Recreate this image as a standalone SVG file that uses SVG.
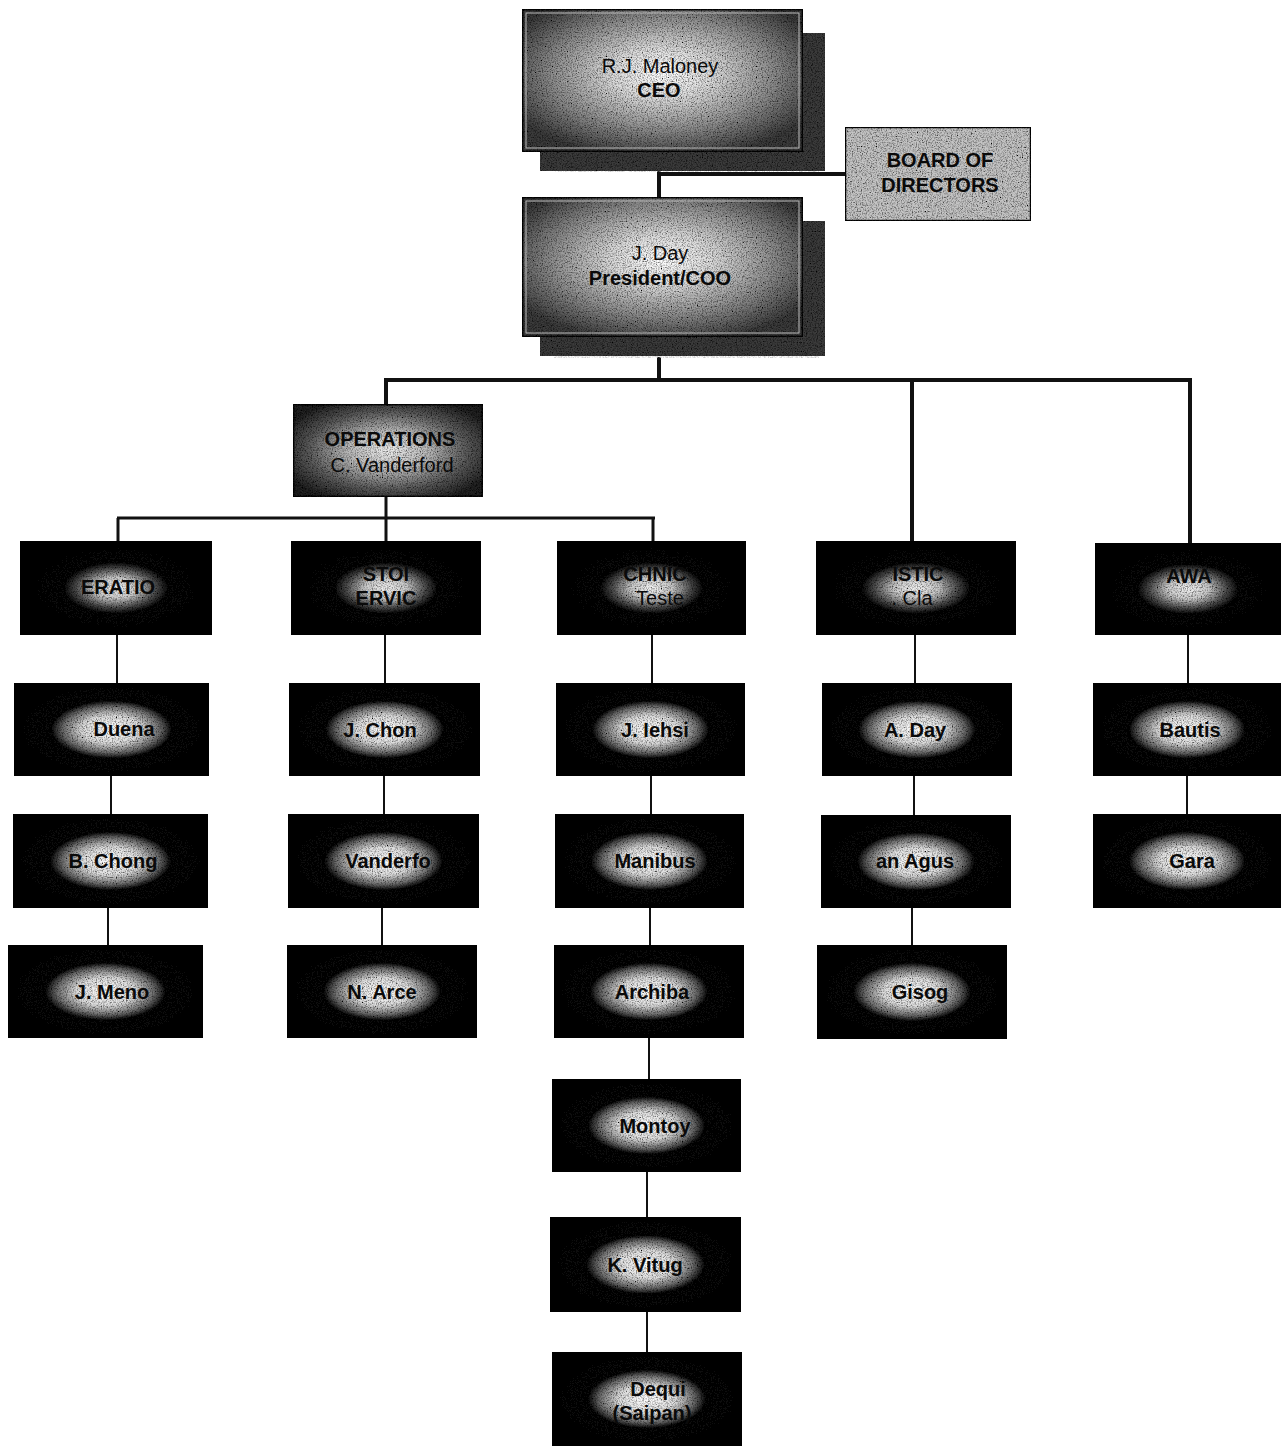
<svg xmlns="http://www.w3.org/2000/svg" width="1281" height="1448" viewBox="0 0 1281 1448">
<defs>
<style>
.t{font-family:"Liberation Sans",Arial,sans-serif;font-size:20px;text-anchor:middle;fill:#0a0a0a}
.b{font-weight:bold}
.thick{stroke:#111;stroke-width:4;fill:none}
.mid{stroke:#111;stroke-width:3;fill:none}
.thin{stroke:#111;stroke-width:2;fill:none}
.dark{fill:url(#glow)}
.darkd{fill:url(#glowd)}
</style>
<radialGradient id="big" cx="0.5" cy="0.45" r="0.6">
<stop offset="0" stop-color="#ffffff"/>
<stop offset="0.3" stop-color="#dadada"/>
<stop offset="0.65" stop-color="#8f8f8f"/>
<stop offset="1" stop-color="#3a3a3a"/>
</radialGradient>
<radialGradient id="ops" cx="0.5" cy="0.5" r="0.6">
<stop offset="0" stop-color="#ececec"/>
<stop offset="0.35" stop-color="#b8b8b8"/>
<stop offset="0.7" stop-color="#5a5a5a"/>
<stop offset="1" stop-color="#202020"/>
</radialGradient>
<radialGradient id="glow" cx="0.5" cy="0.5" r="0.5">
<stop offset="0" stop-color="#ffffff"/>
<stop offset="0.3" stop-color="#dcdcdc"/>
<stop offset="0.5" stop-color="#6a6a6a"/>
<stop offset="0.62" stop-color="#0a0a0a"/>
<stop offset="1" stop-color="#050505"/>
</radialGradient>
<radialGradient id="glowd" cx="0.5" cy="0.5" r="0.5">
<stop offset="0" stop-color="#f2f2f2"/>
<stop offset="0.22" stop-color="#c8c8c8"/>
<stop offset="0.42" stop-color="#4a4a4a"/>
<stop offset="0.55" stop-color="#080808"/>
<stop offset="1" stop-color="#050505"/>
</radialGradient>
<filter id="grain" x="0" y="0" width="1" height="1">
<feTurbulence type="fractalNoise" baseFrequency="0.8" numOctaves="3" seed="4" result="n"/>
<feColorMatrix in="n" type="matrix" values="0 0 0 0 0  0 0 0 0 0  0 0 0 0 0  0 0 0 -2.2 1.3" result="d"/>
<feComposite in="d" in2="SourceGraphic" operator="in" result="dd"/>
<feMerge><feMergeNode in="SourceGraphic"/><feMergeNode in="dd"/></feMerge>
</filter>
<filter id="soft" x="-10%" y="-10%" width="120%" height="120%">
<feTurbulence type="fractalNoise" baseFrequency="0.7" numOctaves="2" seed="9" result="n"/>
<feColorMatrix in="n" type="matrix" values="0 0 0 0 0.5  0 0 0 0 0.5  0 0 0 0 0.5  0 0 0 -2 1.3" result="d"/>
<feComposite in="d" in2="SourceGraphic" operator="in"/>
</filter>
</defs>
<rect width="1281" height="1448" fill="#ffffff"/>

<g id="connectors">
<line class="thick" x1="659" y1="170" x2="659" y2="198"/>
<line class="thick" x1="659" y1="174" x2="845" y2="174"/>
<line class="thick" x1="659" y1="357" x2="659" y2="380"/>
<line class="thick" x1="384" y1="380" x2="1192" y2="380"/>
<line class="thick" x1="386" y1="380" x2="386" y2="404"/>
<line class="thick" x1="912" y1="380" x2="912" y2="541"/>
<line class="thick" x1="1190" y1="380" x2="1190" y2="543"/>
<line class="mid" x1="386" y1="497" x2="386" y2="518"/>
<line class="mid" x1="117" y1="518" x2="655" y2="518"/>
<line class="mid" x1="118" y1="518" x2="118" y2="541"/>
<line class="mid" x1="386" y1="518" x2="386" y2="541"/>
<line class="mid" x1="653" y1="518" x2="653" y2="541"/>
<line class="thin" x1="117" y1="635" x2="117" y2="683"/>
<line class="thin" x1="111" y1="776" x2="111" y2="814"/>
<line class="thin" x1="108" y1="908" x2="108" y2="945"/>
<line class="thin" x1="385" y1="635" x2="385" y2="683"/>
<line class="thin" x1="384" y1="776" x2="384" y2="814"/>
<line class="thin" x1="382" y1="908" x2="382" y2="945"/>
<line class="thin" x1="652" y1="635" x2="652" y2="683"/>
<line class="thin" x1="651" y1="776" x2="651" y2="814"/>
<line class="thin" x1="650" y1="908" x2="650" y2="945"/>
<line class="thin" x1="649" y1="1038" x2="649" y2="1079"/>
<line class="thin" x1="647" y1="1172" x2="647" y2="1217"/>
<line class="thin" x1="647" y1="1312" x2="647" y2="1352"/>
<line class="thin" x1="915" y1="635" x2="915" y2="683"/>
<line class="thin" x1="914" y1="776" x2="914" y2="815"/>
<line class="thin" x1="912" y1="908" x2="912" y2="945"/>
<line class="thin" x1="1188" y1="635" x2="1188" y2="683"/>
<line class="thin" x1="1187" y1="776" x2="1187" y2="814"/>
</g>

<g id="ceo">
<rect x="554" y="150" width="265" height="22" fill="#8c8c8c" filter="url(#soft)"/>
<rect x="540" y="33" width="285" height="138" fill="#3a3a3a" filter="url(#grain)"/>
<rect x="522" y="9" width="281" height="143" fill="url(#big)" stroke="#111" stroke-width="3" filter="url(#grain)"/>
<rect x="526" y="13" width="273" height="135" fill="none" stroke="#bbb" stroke-width="1"/>
<text class="t" x="660" y="73">R.J. Maloney</text>
<text class="t b" x="659" y="97">CEO</text>
</g>

<g id="board">
<rect x="845" y="127" width="186" height="94" fill="#c4c4c4" stroke="#111" stroke-width="2.5" filter="url(#grain)"/>
<text class="t b" x="940" y="167">BOARD OF</text>
<text class="t b" x="940" y="192">DIRECTORS</text>
</g>

<g id="president">
<rect x="554" y="336" width="265" height="22" fill="#8c8c8c" filter="url(#soft)"/>
<rect x="540" y="221" width="285" height="135" fill="#3a3a3a" filter="url(#grain)"/>
<rect x="522" y="197" width="281" height="140" fill="url(#big)" stroke="#111" stroke-width="3" filter="url(#grain)"/>
<rect x="526" y="201" width="273" height="132" fill="none" stroke="#bbb" stroke-width="1"/>
<text class="t" x="660" y="260">J. Day</text>
<text class="t b" x="660" y="285">President/COO</text>
</g>

<g id="operations">
<rect x="293" y="404" width="190" height="93" fill="url(#ops)" stroke="#111" stroke-width="3" filter="url(#grain)"/>
<text class="t b" x="390" y="446">OPERATIONS</text>
<text class="t" x="392" y="472">C. Vanderford</text>
</g>

<g id="dept-1"><rect class="darkd" x="20" y="541" width="192" height="94" filter="url(#grain)"/><text class="t b" x="118" y="594">ERATIO</text></g>
<g id="dept-2"><rect class="darkd" x="291" y="541" width="190" height="94" filter="url(#grain)"/><text class="t b" x="386" y="581">STOI</text><text class="t b" x="386" y="605">ERVIC</text></g>
<g id="dept-3"><rect class="darkd" x="557" y="541" width="189" height="94" filter="url(#grain)"/><text class="t b" x="655" y="581">CHNIC</text><text class="t" x="660" y="605">Teste</text></g>
<g id="dept-4"><rect class="darkd" x="816" y="541" width="200" height="94" filter="url(#grain)"/><text class="t b" x="918" y="581">ISTIC</text><text class="t" x="912" y="605">. Cla</text></g>
<g id="dept-5"><rect class="darkd" x="1095" y="543" width="186" height="92" filter="url(#grain)"/><text class="t b" x="1189" y="583">AWA</text></g>

<g id="p-duena"><rect class="dark" x="14" y="683" width="195" height="93" filter="url(#grain)"/><text class="t b" x="124" y="736">Duena</text></g>
<g id="p-bchong"><rect class="dark" x="13" y="814" width="195" height="94" filter="url(#grain)"/><text class="t b" x="113" y="868">B. Chong</text></g>
<g id="p-jmeno"><rect class="dark" x="8" y="945" width="195" height="93" filter="url(#grain)"/><text class="t b" x="112" y="999">J. Meno</text></g>

<g id="p-jchon"><rect class="dark" x="289" y="683" width="191" height="93" filter="url(#grain)"/><text class="t b" x="380" y="737">J. Chon</text></g>
<g id="p-vanderfo"><rect class="dark" x="288" y="814" width="191" height="94" filter="url(#grain)"/><text class="t b" x="388" y="868">Vanderfo</text></g>
<g id="p-narce"><rect class="dark" x="287" y="945" width="190" height="93" filter="url(#grain)"/><text class="t b" x="382" y="999">N. Arce</text></g>

<g id="p-iehsi"><rect class="dark" x="556" y="683" width="189" height="93" filter="url(#grain)"/><text class="t b" x="655" y="737">J. Iehsi</text></g>
<g id="p-manibus"><rect class="dark" x="555" y="814" width="189" height="94" filter="url(#grain)"/><text class="t b" x="655" y="868">Manibus</text></g>
<g id="p-archiba"><rect class="dark" x="554" y="945" width="190" height="93" filter="url(#grain)"/><text class="t b" x="652" y="999">Archiba</text></g>
<g id="p-montoy"><rect class="dark" x="552" y="1079" width="189" height="93" filter="url(#grain)"/><text class="t b" x="655" y="1133">Montoy</text></g>
<g id="p-vitug"><rect class="dark" x="550" y="1217" width="191" height="95" filter="url(#grain)"/><text class="t b" x="645" y="1272">K. Vitug</text></g>
<g id="p-dequi"><rect class="dark" x="552" y="1352" width="190" height="94" filter="url(#grain)"/><text class="t b" x="658" y="1396">Dequi</text><text class="t b" x="652" y="1420">(Saipan)</text></g>

<g id="p-aday"><rect class="dark" x="822" y="683" width="190" height="93" filter="url(#grain)"/><text class="t b" x="915" y="737">A. Day</text></g>
<g id="p-agus"><rect class="dark" x="821" y="815" width="190" height="93" filter="url(#grain)"/><text class="t b" x="915" y="868">an Agus</text></g>
<g id="p-gisog"><rect class="dark" x="817" y="945" width="190" height="94" filter="url(#grain)"/><text class="t b" x="920" y="999">Gisog</text></g>

<g id="p-bautis"><rect class="dark" x="1093" y="683" width="188" height="93" filter="url(#grain)"/><text class="t b" x="1190" y="737">Bautis</text></g>
<g id="p-gara"><rect class="dark" x="1093" y="814" width="188" height="94" filter="url(#grain)"/><text class="t b" x="1192" y="868">Gara</text></g>
</svg>
